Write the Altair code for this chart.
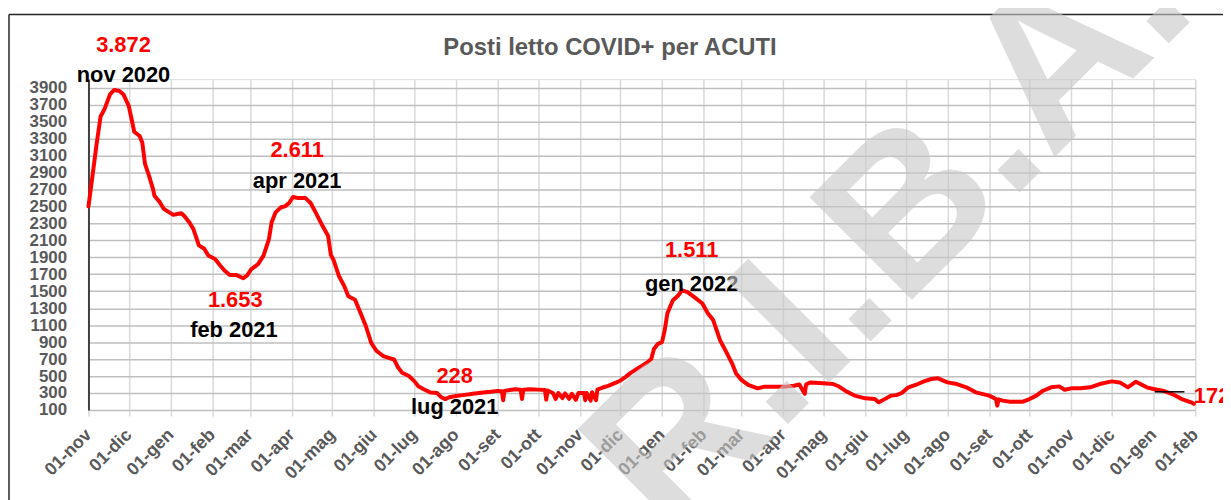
import altair as alt
import pandas as pd

# ---- data ----
dates = [
    "2020-11-01", "2020-11-04", "2020-11-07", "2020-11-10", "2020-11-13", "2020-11-17", "2020-11-20",
    "2020-11-24", "2020-11-27", "2020-12-01", "2020-12-03", "2020-12-05", "2020-12-09", "2020-12-11",
    "2020-12-13", "2020-12-16", "2020-12-19", "2020-12-20", "2020-12-24", "2020-12-27", "2020-12-31",
    "2021-01-03", "2021-01-06", "2021-01-09", "2021-01-11", "2021-01-15", "2021-01-18", "2021-01-22",
    "2021-01-26", "2021-01-29", "2021-02-03", "2021-02-07", "2021-02-10", "2021-02-14", "2021-02-19",
    "2021-02-24", "2021-02-27", "2021-03-02", "2021-03-07", "2021-03-11", "2021-03-15", "2021-03-17",
    "2021-03-20", "2021-03-24", "2021-03-27", "2021-03-30", "2021-04-02", "2021-04-05", "2021-04-11",
    "2021-04-15", "2021-04-19", "2021-04-24", "2021-04-28", "2021-04-30", "2021-05-02", "2021-05-06",
    "2021-05-10", "2021-05-13", "2021-05-18", "2021-05-22", "2021-05-26", "2021-05-30", "2021-06-03",
    "2021-06-08", "2021-06-12", "2021-06-16", "2021-06-19", "2021-06-22", "2021-06-27", "2021-07-01",
    "2021-07-04", "2021-07-08", "2021-07-13", "2021-07-18", "2021-07-21", "2021-07-24", "2021-07-27",
    "2021-08-01", "2021-08-06", "2021-08-11", "2021-08-15", "2021-08-21", "2021-08-27", "2021-09-01",
    "2021-09-04", "2021-09-05", "2021-09-06", "2021-09-10", "2021-09-14", "2021-09-18", "2021-09-19",
    "2021-09-20", "2021-09-25", "2021-10-01", "2021-10-06", "2021-10-07", "2021-10-08", "2021-10-12",
    "2021-10-14", "2021-10-16", "2021-10-19", "2021-10-21", "2021-10-24", "2021-10-26", "2021-10-29",
    "2021-10-31", "2021-11-02", "2021-11-04", "2021-11-05", "2021-11-06", "2021-11-09", "2021-11-10",
    "2021-11-13", "2021-11-14", "2021-11-18", "2021-11-22", "2021-11-26", "2021-12-01", "2021-12-05",
    "2021-12-09", "2021-12-13", "2021-12-17", "2021-12-21", "2021-12-24", "2021-12-26", "2021-12-29",
    "2022-01-01", "2022-01-03", "2022-01-05", "2022-01-09", "2022-01-13", "2022-01-16", "2022-01-20",
    "2022-01-25", "2022-01-31", "2022-02-04", "2022-02-08", "2022-02-11", "2022-02-13", "2022-02-17",
    "2022-02-22", "2022-02-25", "2022-03-01", "2022-03-06", "2022-03-13", "2022-03-18", "2022-03-28",
    "2022-04-04", "2022-04-09", "2022-04-13", "2022-04-17", "2022-04-18", "2022-04-21", "2022-05-01",
    "2022-05-08", "2022-05-12", "2022-05-17", "2022-05-24", "2022-06-01", "2022-06-08", "2022-06-11",
    "2022-06-15", "2022-06-20", "2022-06-24", "2022-06-28", "2022-07-03", "2022-07-10", "2022-07-15",
    "2022-07-20", "2022-07-25", "2022-08-01", "2022-08-08", "2022-08-15", "2022-08-22", "2022-09-01",
    "2022-09-06", "2022-09-07", "2022-09-08", "2022-09-11", "2022-09-16", "2022-09-26", "2022-10-01",
    "2022-10-06", "2022-10-11", "2022-10-17", "2022-10-23", "2022-10-27", "2022-11-01", "2022-11-08",
    "2022-11-15", "2022-11-22", "2022-12-01", "2022-12-07", "2022-12-13", "2022-12-19", "2022-12-27",
    "2023-01-01", "2023-01-08", "2023-01-15", "2023-01-22", "2023-01-29", "2023-01-31",
]
values = [
    2500, 2860, 3230, 3560, 3650, 3820, 3872,
    3860, 3820, 3680, 3530, 3380, 3330, 3250,
    3000, 2860, 2700, 2625, 2550, 2470, 2430,
    2400, 2410, 2420, 2390, 2310, 2230, 2040,
    2000, 1920, 1880, 1800, 1745, 1690, 1690,
    1653, 1690, 1760, 1820, 1920, 2110, 2310,
    2430, 2490, 2500, 2540, 2611, 2600, 2600,
    2540, 2420, 2265, 2150, 1930, 1870, 1680,
    1560, 1440, 1400, 1245, 1090, 890, 795,
    735, 715, 695, 600, 540, 500, 440,
    380, 345, 305, 300, 250, 228, 250,
    265, 275, 285, 295, 305, 315, 325,
    320, 215, 325, 335, 345, 340, 230,
    340, 345, 340, 335, 222, 330, 300,
    230, 300, 240, 295, 230, 290, 220,
    300, 300, 300, 215, 300, 210, 310,
    215, 340, 365, 385, 410, 445, 490,
    540, 580, 620, 660, 700, 820, 880,
    900, 1040, 1240, 1390, 1450, 1511, 1490,
    1430, 1355, 1240, 1160, 1020, 925, 805,
    650, 530, 455, 395, 355, 375, 375,
    378, 385, 400, 290, 400, 425, 414,
    406, 380, 327, 270, 237, 229, 190,
    225, 269, 275, 300, 367, 406, 440,
    465, 473, 425, 406, 367, 308, 269,
    229, 151, 225, 210, 198, 198, 229,
    269, 327, 367, 378, 339, 355, 355,
    367, 406, 437, 425, 367, 433, 367,
    347, 327, 288, 229, 190, 172,
]

ann_text = ["3.872", "nov 2020", "2.611", "apr 2021", "1.653", "feb 2021",
            "228", "lug 2021", "1.511", "gen 2022"]
ann_date = ["2020-11-27", "2020-11-27", "2021-04-05", "2021-04-05", "2021-02-18", "2021-02-17",
            "2021-07-31", "2021-07-31", "2022-01-23", "2022-01-23"]
ann_value = [4405, 4043, 3163, 2795, 1401, 1041, 498, 132, 1982, 1585]
ann_color = ["#ff0000", "#000000", "#ff0000", "#000000", "#ff0000", "#000000",
             "#ff0000", "#000000", "#ff0000", "#000000"]

end_text = ["172"]
end_date = ["2023-01-31"]
end_value = [264]

leader_dates = ["2023-01-02"]
leader_dates2 = ["2023-01-24"]
leader_values = [314]

month_names = ["gen", "feb", "mar", "apr", "mag", "giu", "lug", "ago", "set", "ott", "nov", "dic"]
y_ticks = list(range(100, 4000, 200))
x_start, x_end = "2020-11-01", "2023-02-01"
title_text = "Posti letto COVID+ per ACUTI"
watermark_text = "S.R.I.B.A."

# ---- build ----
month_starts = pd.date_range(x_start, x_end, freq="MS", tz="UTC")
tick_ms = [int(t.value // 10**6) for t in month_starts]

FONT = "Liberation Sans"
GRAY = "#595959"

df = pd.DataFrame({"date": dates, "value": values})
ann = pd.DataFrame({"date": ann_date, "value": ann_value, "label": ann_text, "color": ann_color})
end_df = pd.DataFrame({"date": end_date, "value": end_value, "label": end_text})
lead_df = pd.DataFrame({"date": leader_dates, "date2": leader_dates2, "value": leader_values})

label_expr = "'01-' + " + str(month_names) + "[utcmonth(datum.value)]"

X = alt.X(
    "date:T",
    scale=alt.Scale(type="utc", domain=[tick_ms[0], tick_ms[-1]], nice=False),
    axis=alt.Axis(
        title=None, values=tick_ms, labelExpr=label_expr, grid=True, gridColor="#d9d9d9",
        gridWidth=1.5, domain=False, ticks=True, tickColor="#d9d9d9", tickWidth=1.5, tickSize=6,
        labelAngle=315, labelAlign="right", labelBaseline="middle", labelPadding=16,
        labelFont=FONT, labelFontSize=18, labelFontWeight="bold", labelColor=GRAY,
        labelOverlap=False, labelFlush=False, labelBound=False,
    ),
)
Y = alt.Y(
    "value:Q",
    scale=alt.Scale(domain=[100, 4000], nice=False, zero=False),
    axis=alt.Axis(
        title=None, values=y_ticks, format="d", grid=True, gridColor="#bfbfbf", gridWidth=1.5,
        domain=True, domainColor="#404040", domainWidth=2, ticks=False, labelPadding=22,
        labelFont=FONT, labelFontSize=17, labelFontWeight="bold", labelColor=GRAY,
        labelOverlap=False, labelFlush=False, labelBound=False,
    ),
)

one = alt.Data(values=[{}])

frame_left = alt.Chart(one).mark_rule(color="#262626", strokeWidth=1.5).encode(
    x=alt.value(-80), y=alt.value(-65), y2=alt.value(440))
frame_top = alt.Chart(one).mark_rule(color="#262626", strokeWidth=1.5).encode(
    x=alt.value(-80), x2=alt.value(1300), y=alt.value(-65))

line = alt.Chart(df).mark_line(color="#ff0000", strokeWidth=4, strokeJoin="round",
                               strokeCap="round").encode(x=X, y=Y)

leader = alt.Chart(lead_df).mark_rule(color="#000000", strokeWidth=1.5).encode(
    x=X, x2="date2:T", y=Y)

ann_layer = alt.Chart(ann).mark_text(font=FONT, fontSize=22, fontWeight="bold",
                                     baseline="middle", align="center").encode(
    x=X, y=Y, text="label:N", color=alt.Color("color:N", scale=None))

end_layer = alt.Chart(end_df).mark_text(font=FONT, fontSize=22, fontWeight="bold",
                                        baseline="middle", align="left", color="#ff0000").encode(
    x=X, y=Y, text="label:N")

title = alt.Chart(one).mark_text(font=FONT, fontSize=24, fontWeight="bold", color=GRAY,
                                 align="center", baseline="alphabetic", text=title_text).encode(
    x=alt.value(525), y=alt.value(-24))

watermark = alt.Chart(one).mark_text(font=FONT, fontSize=212, fontWeight="bold",
                                     color="#c8c8c8", opacity=0.6, align="left",
                                     baseline="alphabetic", angle=315, text=watermark_text).encode(
    x=alt.value(444), y=alt.value(607))

chart = alt.layer(frame_left, frame_top, line, leader, ann_layer, end_layer, title, watermark).properties(
    width=1114, height=333,
    autosize=alt.AutoSizeParams(type="none"),
    padding={"left": 81, "top": 70, "right": 28, "bottom": 89},
).configure_view(stroke=None).configure(background="white")

chart.save("out.html", embed_options={"renderer": "svg", "actions": False})
